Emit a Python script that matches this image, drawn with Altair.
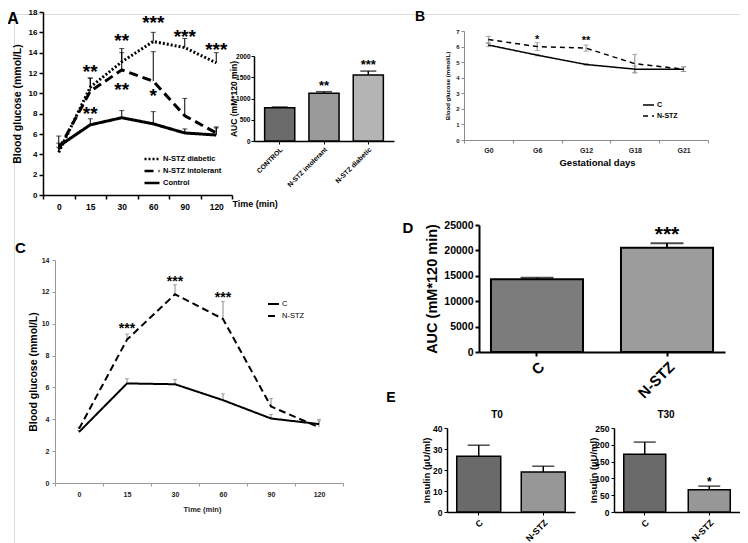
import altair as alt
import pandas as pd

FONT = "Liberation Sans"
PAD = 6
W, H = 726, 529

# ---------------- data ----------------
times = ["0", "15", "30", "60", "90", "120"]

# Panel A (OGTT, three groups)
a_series = ["N-STZ diabetic", "N-STZ intolerant", "Control"]
a_diabetic = [4.2, 10.6, 13.1, 15.1, 14.5, 13.0]
a_diabetic_err = [0.5, 0.9, 1.3, 0.9, 0.9, 1.0]
a_intolerant = [4.5, 10.2, 12.3, 11.2, 7.8, 6.1]
a_intolerant_err = [0.6, 1.3, 1.7, 2.9, 1.7, 0.6]
a_control = [4.8, 6.9, 7.6, 7.0, 6.1, 5.9]
a_control_err = [1.0, 0.6, 0.7, 1.2, 0.4, 0.7]
a_sig_time = ["15", "30", "60", "90", "120", "30", "60", "15"]
a_sig_y = [12.6, 15.6, 17.4, 16.0, 14.8, 10.8, 10.2, 8.5]
a_sig_text = ["**", "**", "***", "***", "***", "**", "*", "**"]

# Panel A inset (AUC)
inset_groups = ["CONTROL", "N-STZ intolerant", "N-STZ diabetic"]
inset_auc = [785, 1125, 1555]
inset_err = [15, 35, 90]
inset_sig_groups = ["N-STZ intolerant", "N-STZ diabetic"]
inset_sig_y = [1365, 1860]
inset_sig_text = ["**", "***"]

# Panel B (gestation)
gdays = ["G0", "G6", "G12", "G18", "G21"]
b_series = ["C", "N-STZ"]
b_c = [6.1, 5.45, 4.85, 4.55, 4.55]
b_c_err = [0.1, 0.05, 0.05, 0.2, 0.15]
b_n = [6.45, 6.0, 5.9, 4.9, 4.55]
b_n_err = [0.2, 0.25, 0.2, 0.6, 0.15]
b_sig_days = ["G6", "G12"]
b_sig_y = [6.6, 6.55]
b_sig_text = ["*", "**"]

# Panel C (OGTT)
c_series = ["C", "N-STZ"]
c_c = [3.2, 6.25, 6.2, 5.2, 4.05, 3.7]
c_c_err = [0.1, 0.3, 0.3, 0.4, 0.25, 0.3]
c_n = [3.4, 9.0, 11.85, 10.3, 4.8, 3.5]
c_n_err = [0.1, 0.35, 0.6, 1.1, 0.5, 0.4]
c_sig_times = ["15", "30", "60"]
c_sig_y = [9.9, 12.9, 11.85]
c_sig_text = ["***", "***", "***"]

# Panel D (AUC)
d_groups = ["C", "N-STZ"]
d_auc = [14300, 20500]
d_err = [300, 900]
d_sig_groups = ["N-STZ"]
d_sig_y = [24300]
d_sig_text = ["***"]

# Panel E (insulin)
e_groups = ["C", "N-STZ"]
e_t0 = [26.5, 19.0]
e_t0_err = [5.3, 2.8]
e_t30 = [172, 66]
e_t30_err = [36, 11]
e_t30_sig_groups = ["N-STZ"]
e_t30_sig_y = [95]
e_t30_sig_text = ["*"]


# ---------------- helpers ----------------
def vx(p):
    return p - 8 - PAD


def vy(p):
    return p - 8 - PAD


def band(domain, x0, x1, pi=0.0, po=0.0):
    return alt.Scale(type="band", domain=domain, range=[vx(x0), vx(x1)],
                     paddingInner=pi, paddingOuter=po)


def lin(domain, y0, y1):
    return alt.Scale(type="linear", domain=domain, range=[vy(y0), vy(y1)], nice=False, zero=False)


def xa(y_px, **kw):
    d = dict(orient="bottom", offset=vy(y_px) - H, grid=False, labelAngle=0,
             labelFont=FONT, labelFontWeight="bold", titleFont=FONT, titleFontWeight="bold",
             domainColor="black", tickColor="black", labelColor="black", titleColor="black")
    d.update(kw)
    return alt.Axis(**d)


def ya(x_px, **kw):
    d = dict(orient="left", offset=-vx(x_px), grid=False,
             labelFont=FONT, labelFontWeight="bold", titleFont=FONT, titleFontWeight="bold",
             titleAngle=270, titleAlign="center", titleBaseline="middle",
             domainColor="black", tickColor="black", labelColor="black", titleColor="black")
    d.update(kw)
    return alt.Axis(**d)


def long_df(cats, catname, names, values, errs):
    rows = []
    for s, vals, es in zip(names, values, errs):
        for i, (c, val, e) in enumerate(zip(cats, vals, es)):
            rows.append({"series": s, catname: c, "idx": i, "value": val,
                         "lo": val - e, "hi": val + e})
    return pd.DataFrame(rows)


def line_panel(df, cat, xs, ys, xax, yax, dash_scale, legend, line_w, err_color,
               cap_w, both, sig_df, sig_size, sig_dy):
    X = alt.X(f"{cat}:N", scale=xs, axis=xax)

    def Yf(f):
        return alt.Y(f"{f}:Q", scale=ys, axis=yax)

    base = alt.Chart(df)
    layers = [
        base.mark_rule(color=err_color, strokeWidth=1).encode(
            x=X, y=Yf("lo" if both else "value"), y2="hi:Q"),
        base.mark_tick(color=err_color, size=cap_w, thickness=1).encode(x=X, y=Yf("hi")),
    ]
    if both:
        layers.append(base.mark_tick(color=err_color, size=cap_w, thickness=1).encode(x=X, y=Yf("lo")))
    layers.append(
        base.mark_line(color="black", strokeWidth=line_w).encode(
            x=X, y=Yf("value"),
            strokeDash=alt.StrokeDash("series:N", scale=dash_scale, legend=legend),
            order="idx:Q"))
    layers.append(
        alt.Chart(sig_df).mark_text(font=FONT, fontWeight="bold", fontSize=sig_size,
                                    baseline="alphabetic", dy=sig_dy, color="black").encode(
            x=X, y=Yf("y"), text="t:N"))
    return alt.layer(*layers)


def bar_panel(groups, vals, errs, xs, ys, xax, yax, fills, sw, cap_w,
              sig_groups, sig_y, sig_t, sig_size, sig_dy):
    df = pd.DataFrame({"group": groups, "value": vals,
                       "hi": [a + b for a, b in zip(vals, errs)]})
    sdf = pd.DataFrame({"group": sig_groups, "y": sig_y, "t": sig_t})
    X = alt.X("group:N", scale=xs, axis=xax)

    def Yf(f):
        return alt.Y(f"{f}:Q", scale=ys, axis=yax)

    base = alt.Chart(df)
    return alt.layer(
        base.mark_rule(color="black", strokeWidth=sw).encode(x=X, y=Yf("value"), y2="hi:Q"),
        base.mark_tick(color="black", size=cap_w, thickness=sw).encode(x=X, y=Yf("hi")),
        base.mark_bar(stroke="black", strokeWidth=sw).encode(
            x=X, y=Yf("value"),
            fill=alt.Fill("group:N", scale=alt.Scale(domain=groups, range=fills), legend=None)),
        alt.Chart(sdf).mark_text(font=FONT, fontWeight="bold", fontSize=sig_size,
                                 baseline="alphabetic", dy=sig_dy, color="black").encode(
            x=X, y=Yf("y"), text="t:N"),
    )


def label(text, x, y, size, weight="bold"):
    return alt.Chart(pd.DataFrame({"t": [text]})).mark_text(
        font=FONT, fontSize=size, fontWeight=weight, align="center", baseline="middle",
        color="black").encode(x=alt.value(vx(x)), y=alt.value(vy(y)), text="t:N")


def line_legend(x, y, size, lsize, sw, weight, row_pad):
    return alt.Legend(orient="none", legendX=vx(x), legendY=vy(y), title=None,
                      symbolType="stroke", symbolSize=size, symbolStrokeWidth=sw,
                      symbolStrokeColor="black", labelFont=FONT, labelFontSize=lsize,
                      labelFontWeight=weight, labelColor="black", labelOffset=2,
                      padding=0, rowPadding=row_pad, clipHeight=10)


# ---------------- Panel A ----------------
a_df = long_df(times, "time", a_series,
               [a_diabetic, a_intolerant, a_control],
               [a_diabetic_err, a_intolerant_err, a_control_err])
a_sig = pd.DataFrame({"time": a_sig_time, "y": a_sig_y, "t": a_sig_text})
panel_a = line_panel(
    a_df, "time", band(times, 43, 232), lin([0, 18], 195, 12),
    xa(195, title="Time (min)", titleX=vx(232), titleY=8, titleAlign="left",
       titleBaseline="middle", titleFontSize=9, labelFontSize=8.5, tickBand="extent",
       tickSize=4, labelPadding=3, domainWidth=1.5, tickWidth=1.5),
    ya(43, title="Blood glucose (mmol/L)", titleX=17 - 43, titleY=vy((195 + 12) / 2),
       titleFontSize=10.5, labelFontSize=8, values=list(range(0, 19, 2)), tickSize=4,
       labelPadding=2, domainWidth=1.5, tickWidth=1.5),
    alt.Scale(domain=a_series, range=[[2, 2], [9, 5], [1, 0]]),
    line_legend(143, 154, 225, 7.5, 2.5, "bold", 2),
    3, "black", 5, False, a_sig, 19, 11)

inset = bar_panel(
    inset_groups, inset_auc, inset_err,
    band(inset_groups, 254, 394, 0.32, 0.24), lin([0, 2000], 141, 56),
    xa(141, title=None, labelAngle=315, labelAlign="right", labelBaseline="top",
       labelFontSize=6.8, tickSize=3, labelPadding=2, domainWidth=1.5),
    ya(254, title="AUC (mM*120 min)", titleX=233 - 254, titleY=vy((141 + 56) / 2),
       titleFontSize=8.5, labelFontSize=6.5, values=[0, 500, 1000, 1500, 2000], format="d",
       tickSize=3, labelPadding=1, domainWidth=1.5),
    ["#6b6b6b", "#9a9a9a", "#b4b4b4"], 1.5, 16,
    inset_sig_groups, inset_sig_y, inset_sig_text, 13, 7)

# ---------------- Panel B ----------------
b_df = long_df(gdays, "day", b_series, [b_c, b_n], [b_c_err, b_n_err])
b_sig = pd.DataFrame({"day": b_sig_days, "y": b_sig_y, "t": b_sig_text})
panel_b = line_panel(
    b_df, "day", band(gdays, 464, 708), lin([0, 7], 140, 31),
    xa(140, title="Gestational days", titleX=vx(597), titleY=22, titleAlign="center",
       titleBaseline="middle", titleFontSize=9.5, labelFontSize=7, tickBand="extent",
       tickSize=3, labelPadding=3, domainColor="#8a8a8a", tickColor="#8a8a8a",
       labelColor="#222"),
    ya(464, title="Blood glucose (mmol/L)", titleX=447 - 464, titleY=vy((140 + 31) / 2),
       titleFontSize=6, labelFontSize=6, values=list(range(0, 8)), tickSize=3,
       labelPadding=2, domainColor="#8a8a8a", tickColor="#8a8a8a", labelColor="#222"),
    alt.Scale(domain=b_series, range=[[1, 0], [5, 4]]),
    line_legend(642, 100, 121, 7, 1.5, "bold", 1),
    1.5, "#8a8a8a", 5, True, b_sig, 11, 6)

# ---------------- Panel C ----------------
c_df = long_df(times, "time", c_series, [c_c, c_n], [c_c_err, c_n_err])
c_sig = pd.DataFrame({"time": c_sig_times, "y": c_sig_y, "t": c_sig_text})
panel_c = line_panel(
    c_df, "time", band(times, 55, 343), lin([0, 14], 483, 260),
    xa(483, title="Time (min)", titleX=vx(202), titleY=26, titleAlign="center",
       titleBaseline="middle", titleFontSize=7.5, labelFontSize=7, tickBand="extent",
       tickSize=3, labelPadding=4, domainColor="#9a9a9a", tickColor="#9a9a9a",
       labelColor="#222", titleColor="#222"),
    ya(55, title="Blood glucose (mmol/L)", titleX=33 - 55, titleY=vy((483 + 260) / 2),
       titleFontSize=10.5, labelFontSize=7, values=list(range(0, 15, 2)), tickSize=3,
       labelPadding=3, domainColor="#9a9a9a", tickColor="#9a9a9a", labelColor="#222"),
    alt.Scale(domain=c_series, range=[[1, 0], [7, 4]]),
    line_legend(267, 299, 121, 7.5, 2, "normal", 2),
    2, "#8a8a8a", 4, False, c_sig, 14, 8)

# ---------------- Panel D ----------------
panel_d = bar_panel(
    d_groups, d_auc, d_err,
    band(d_groups, 479, 725, 0.292, 0.092), lin([0, 25000], 352, 225),
    xa(352, title=None, labelAngle=315, labelAlign="right", labelBaseline="top",
       labelFontSize=15, tickSize=4, labelPadding=3, domainWidth=2, tickWidth=2),
    ya(479, title="AUC (mM*120 min)", titleX=432 - 479, titleY=vy((352 + 225) / 2),
       titleFontSize=14.5, labelFontSize=10.5, values=list(range(0, 25001, 5000)),
       format="d", tickSize=4, labelPadding=2, domainWidth=2, tickWidth=2),
    ["#7c7c7c", "#9c9c9c"], 2, 33,
    d_sig_groups, d_sig_y, d_sig_text, 21, 12)

# ---------------- Panel E ----------------
panel_e0 = bar_panel(
    e_groups, e_t0, e_t0_err,
    band(e_groups, 447, 575, 0.318, 0.151), lin([0, 40], 512, 428),
    xa(512, title=None, labelAngle=315, labelAlign="right", labelBaseline="top",
       labelFontSize=9, tickSize=3, labelPadding=3, domainWidth=1.5),
    ya(447, title="Insulin (µU/ml)", titleX=426 - 447, titleY=vy((512 + 428) / 2),
       titleFontSize=9.5, labelFontSize=8.5, values=[0, 10, 20, 30, 40], tickSize=3,
       labelPadding=2, domainWidth=1.5),
    ["#6a6a6a", "#979797"], 1.5, 22, [], [], [], 11, 6)

panel_e30 = bar_panel(
    e_groups, e_t30, e_t30_err,
    band(e_groups, 614, 740, 0.349, 0.151), lin([0, 250], 512, 428),
    xa(512, title=None, labelAngle=315, labelAlign="right", labelBaseline="top",
       labelFontSize=9, tickSize=3, labelPadding=3, domainWidth=1.5),
    ya(614, title="Insulin (µU/ml)", titleX=593 - 614, titleY=vy((512 + 428) / 2),
       titleFontSize=9.5, labelFontSize=8.5, values=[0, 50, 100, 150, 200, 250], tickSize=3,
       labelPadding=2, domainWidth=1.5),
    ["#6a6a6a", "#979797"], 1.5, 22,
    e_t30_sig_groups, e_t30_sig_y, e_t30_sig_text, 12, 6)

letters = [
    label("A", 13, 19, 16),
    label("B", 420, 17, 14),
    label("C", 20.5, 247.5, 15),
    label("D", 408, 228, 15),
    label("E", 391, 397.5, 14),
    label("T0", 497, 415, 10),
    label("T30", 666, 415, 10),
]

chart = alt.layer(
    panel_a, inset, panel_b, panel_c, panel_d, panel_e0, panel_e30, *letters
).resolve_scale(
    x="independent", y="independent", strokeDash="independent", fill="independent"
).properties(
    width=W, height=H, autosize=alt.AutoSizeParams(type="none"),
    padding={"left": PAD, "top": PAD, "right": 0, "bottom": 0}
).configure_view(stroke=None).configure(font=FONT)

chart.save("out.html", embed_options={"renderer": "svg", "actions": False})
